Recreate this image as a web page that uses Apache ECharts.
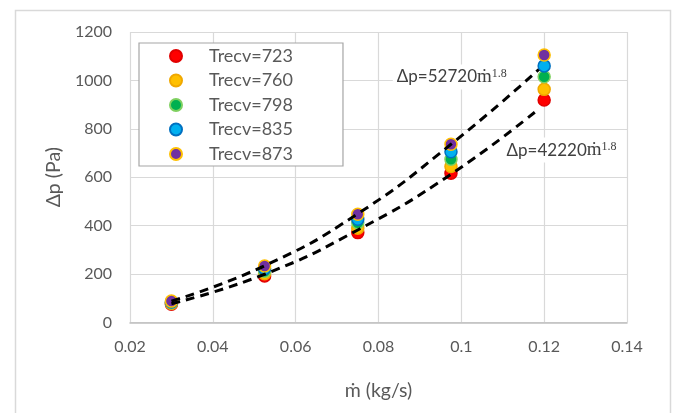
<!DOCTYPE html>
<html><head><meta charset="utf-8">
<script src="https://cdn.jsdelivr.net/npm/echarts@6/dist/echarts.min.js"></script>
<style>html,body{margin:0;padding:0;background:#fff}#c{width:674px;height:413px}</style>
</head><body><div id="c"></div>
<script>
// ---- data ----
const massFlow = [0.03, 0.0525, 0.075, 0.0975, 0.12];
const seriesNames = ['Trecv=723', 'Trecv=760', 'Trecv=798', 'Trecv=835', 'Trecv=873'];
const dp723 = [75, 192, 371, 616, 919];
const dp760 = [78, 201, 389, 644, 963];
const dp798 = [81, 211, 412, 674, 1015];
const dp835 = [84, 222, 426, 705, 1060];
const dp873 = [88, 233, 447, 736, 1105];
const fitX = [0.03, 0.0525, 0.075, 0.0975, 0.1187];
const fitUpper = [88, 234, 449, 736, 1045];
const fitLower = [77, 199, 382, 612, 882];
const xTickValues = [0.02, 0.04, 0.06, 0.08, 0.1, 0.12, 0.14];
const yTickValues = [0, 200, 400, 600, 800, 1000, 1200];
const upperLabel = ['Δp=52720', 'ṁ', '1.8'];
const lowerLabel = ['Δp=42220', 'ṁ', '1.8'];

// ---- styles ----
const fills = ['#FF0000', '#FFC000', '#00B050', '#00B0F0', '#7030A0'];
const borders = ['#E00000', '#F0A800', '#7FD060', '#0070C0', '#FFC000'];
const values = [dp723, dp760, dp798, dp835, dp873];
const FONT = 'Lato, "Noto Sans", sans-serif';
const SERIF = '"Liberation Serif", "DejaVu Serif", serif';
const txt = '#595959';

const pair = (xs, ys) => xs.map((x, i) => [x, ys[i]]);

const scatterSeries = seriesNames.map((n, k) => ({
  name: n, type: 'scatter', symbol: 'circle', symbolSize: 12,
  itemStyle: { color: fills[k], borderColor: borders[k], borderWidth: 1.5, opacity: 1 },
  data: pair(massFlow, values[k]), z: 3
}));

function annot(parts) {
  return '{a|' + parts[0] + '}{m|' + parts[1] + '}{s|' + parts[2] + '}';
}
const richStyle = {
  a: { fontFamily: FONT, fontSize: 17, color: '#404040' },
  m: { fontFamily: SERIF, fontSize: 19, color: '#404040' },
  s: { fontFamily: SERIF, fontSize: 12, color: '#404040', verticalAlign: 'top' }
};

const lineBase = {
  type: 'line', showSymbol: false, symbol: 'none', smooth: true, z: 5,
  lineStyle: { color: '#000', width: 3, type: [9, 6] }, silent: true
};

const chart = echarts.init(document.getElementById('c'), null, { renderer: 'canvas' });
chart.setOption({
  animation: false,
  backgroundColor: '#fff',
  textStyle: { fontFamily: FONT },
  grid: { left: 130, right: 47, top: 32, bottom: 90.6, containLabel: false },
  graphic: [{
    type: 'rect', left: 13, top: 8, silent: true, z: -1,
    shape: { width: 655, height: 420 },
    style: { fill: 'none', stroke: '#D9D9D9', lineWidth: 1.5 }
  }],
  legend: {
    data: seriesNames, orient: 'vertical', left: 139, top: 43,
    width: 224, height: 123,
    padding: [3, 50, 2, 30], itemGap: 4.5, itemWidth: 12, itemHeight: 12,
    borderColor: '#A6A6A6', borderWidth: 1.2, backgroundColor: '#fff',
    icon: 'circle',
    textStyle: { fontFamily: FONT, fontSize: 18, color: txt, lineHeight: 20, padding: [0, 0, 0, 22] }
  },
  xAxis: {
    type: 'value', min: xTickValues[0], max: xTickValues[xTickValues.length - 1],
    interval: xTickValues[1] - xTickValues[0],
    name: 'ṁ (kg/s)', nameLocation: 'middle', nameGap: 58,
    nameTextStyle: { fontFamily: FONT, fontSize: 19.5, color: txt },
    axisLine: { show: true, lineStyle: { color: '#BFBFBF', width: 1.5 } },
    axisTick: { show: false },
    axisLabel: { fontFamily: FONT, fontSize: 16, color: txt, margin: 16,
      formatter: v => String(+v.toFixed(2)) },
    splitLine: { show: true, lineStyle: { color: '#D9D9D9', width: 1.2 } }
  },
  yAxis: {
    type: 'value', min: yTickValues[0], max: yTickValues[yTickValues.length - 1],
    interval: yTickValues[1] - yTickValues[0],
    name: 'Δp (Pa)', nameLocation: 'middle', nameGap: 66, nameRotate: 90,
    nameTextStyle: { fontFamily: FONT, fontSize: 19.5, color: txt },
    axisLine: { show: false }, axisTick: { show: false },
    axisLabel: { fontFamily: FONT, fontSize: 16, color: txt, margin: 18,
      formatter: v => String(v) },
    splitLine: { show: true, lineStyle: { color: '#D9D9D9', width: 1.2 } }
  },
  series: scatterSeries.concat([
    Object.assign({}, lineBase, {
      name: 'fitUpper', data: pair(fitX, fitUpper),
      markPoint: {
        symbol: 'rect', symbolSize: 1, itemStyle: { color: 'rgba(0,0,0,0)' }, silent: true,
        data: [{ coord: [0.0977, 1014] }],
        label: { show: true, position: 'inside', formatter: annot(upperLabel), rich: richStyle,
          backgroundColor: '#fff', padding: [3, 4] }
      }
    }),
    Object.assign({}, lineBase, {
      name: 'fitLower', data: pair(fitX, fitLower),
      markPoint: {
        symbol: 'rect', symbolSize: 1, itemStyle: { color: 'rgba(0,0,0,0)' }, silent: true,
        data: [{ coord: [0.1242, 712] }],
        label: { show: true, position: 'inside', formatter: annot(lowerLabel), rich: richStyle,
          backgroundColor: '#fff', padding: [3, 4] }
      }
    })
  ])
});
</script>
</body></html>
